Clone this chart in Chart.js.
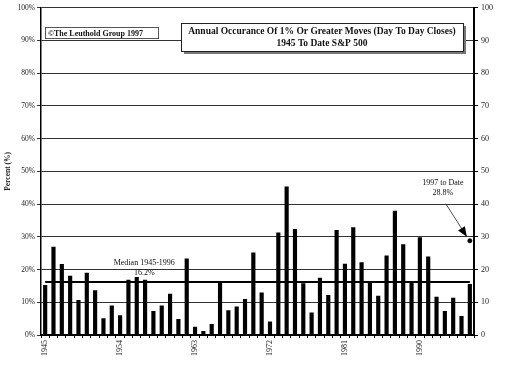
<!DOCTYPE html>
<html>
<head>
<meta charset="utf-8">
<script src="https://cdn.jsdelivr.net/npm/chart.js@4.4.0/dist/chart.umd.min.js"></script>
<style>
  html, body { margin: 0; padding: 0; background: #fff; }
  #wrap { width: 505px; height: 365px; }
</style>
</head>
<body>
<div id="wrap"><canvas id="chart" width="505" height="365"></canvas></div>
<script>
// Years 1945 - 1996
const years = ['1945','1946','1947','1948','1949','1950','1951','1952','1953','1954',
    '1955','1956','1957','1958','1959','1960','1961','1962','1963','1964',
    '1965','1966','1967','1968','1969','1970','1971','1972','1973','1974',
    '1975','1976','1977','1978','1979','1980','1981','1982','1983','1984',
    '1985','1986','1987','1988','1989','1990','1991','1992','1993','1994',
    '1995','1996'];

// % of trading days with a 1% or greater move
const pctMoves = [15.3, 27.0, 21.7, 18.1, 10.7, 19.0, 13.7, 5.1, 9.0, 6.0,
    16.9, 17.7, 16.9, 7.3, 9.0, 12.6, 4.9, 23.4, 2.5, 1.2,
    3.4, 16.1, 7.6, 8.7, 11.0, 25.2, 13.0, 4.1, 31.3, 45.4,
    32.4, 15.8, 6.9, 17.5, 12.2, 32.1, 21.8, 32.9, 22.2, 16.5,
    12.0, 24.3, 38.0, 27.7, 16.5, 29.9, 24.0, 11.7, 7.3, 11.4,
    5.8, 15.6];

const median = 16.2;
const toDate1997 = 28.8;
const yTicks = [0, 10, 20, 30, 40, 50, 60, 70, 80, 90, 100];
const labelEvery = 9; // 1945, 1954, 1963 ...

const medianLine = years.map(() => median);
const toDatePoint = years.map((y, i) => i === years.length - 1 ? toDate1997 : null);

const SERIF = '"Liberation Serif", "DejaVu Serif", serif';

// Text boxes, median label and the 1997 arrow
const notes = {
    id: 'notes',
    afterDatasetsDraw(chart) {
        const ctx = chart.ctx;
        const x = chart.scales.x, y = chart.scales.y;
        ctx.save();

        // copyright box
        ctx.fillStyle = '#fff';
        ctx.fillRect(45, 27, 113, 11);
        ctx.strokeStyle = '#555';
        ctx.lineWidth = 1;
        ctx.strokeRect(45.5, 27.5, 113, 11);
        ctx.fillStyle = '#111';
        ctx.font = 'bold 8px ' + SERIF;
        ctx.textBaseline = 'middle';
        ctx.textAlign = 'left';
        ctx.fillText('\u00A9The Leuthold Group 1997', 48, 33.5);

        // title box with shadow
        ctx.fillStyle = '#777';
        ctx.fillRect(184, 26, 282, 28);
        ctx.fillStyle = '#fff';
        ctx.fillRect(181, 23, 282, 28);
        ctx.strokeStyle = '#222';
        ctx.strokeRect(181.5, 23.5, 282, 28);
        ctx.fillStyle = '#111';
        ctx.font = 'bold 9.5px ' + SERIF;
        ctx.textAlign = 'center';
        ctx.fillText('Annual Occurance Of 1% Or Greater Moves (Day To Day Closes)', 322, 31.5);
        ctx.fillText('1945 To Date S&P 500', 322, 43.5);

        // median label
        ctx.font = '8px ' + SERIF;
        const mx = x.getPixelForValue(11.9);
        ctx.fillText('Median 1945-1996', mx, y.getPixelForValue(median) - 19);
        ctx.fillText(median.toFixed(1) + '%', mx, y.getPixelForValue(median) - 9);

        // 1997 to date label + arrow
        const last = years.length - 1;
        const px = x.getPixelForValue(last), py = y.getPixelForValue(toDate1997);
        ctx.fillText('1997 to Date', px - 27, py - 58);
        ctx.fillText(toDate1997.toFixed(1) + '%', px - 27, py - 48);

        const sx = px - 24, sy = py - 37, ex = px - 3, ey = py - 4;
        ctx.strokeStyle = '#222';
        ctx.lineWidth = 0.8;
        ctx.beginPath();
        ctx.moveTo(sx, sy);
        ctx.lineTo(ex, ey);
        ctx.stroke();
        const ang = Math.atan2(ey - sy, ex - sx);
        ctx.fillStyle = '#000';
        ctx.beginPath();
        ctx.moveTo(ex, ey);
        ctx.lineTo(ex - 10 * Math.cos(ang) + 4 * Math.sin(ang), ey - 10 * Math.sin(ang) - 4 * Math.cos(ang));
        ctx.lineTo(ex - 10 * Math.cos(ang) - 4 * Math.sin(ang), ey - 10 * Math.sin(ang) + 4 * Math.cos(ang));
        ctx.closePath();
        ctx.fill();

        ctx.restore();
    }
};

new Chart(document.getElementById('chart'), {
    type: 'bar',
    data: {
        labels: years,
        datasets: [
            {
                type: 'line',
                data: medianLine,
                borderColor: '#000',
                borderWidth: 2,
                pointRadius: 0,
                order: 1
            },
            {
                type: 'line',
                data: toDatePoint,
                showLine: false,
                pointRadius: 2,
                pointBackgroundColor: '#000',
                pointBorderColor: '#000',
                order: 0
            },
            {
                data: pctMoves,
                backgroundColor: '#000',
                barPercentage: 0.5,
                categoryPercentage: 1,
                order: 2
            }
        ]
    },
    options: {
        responsive: false,
        animation: false,
        devicePixelRatio: 1,
        layout: { padding: { top: 6, left: 0, right: 0, bottom: 0 } },
        plugins: {
            legend: { display: false },
            tooltip: { enabled: false }
        },
        scales: {
            x: {
                grid: { drawOnChartArea: false, drawTicks: true, tickLength: 3, color: '#000' },
                border: { display: true, color: '#000', width: 2 },
                ticks: {
                    autoSkip: false,
                    maxRotation: 90,
                    minRotation: 90,
                    padding: 2,
                    color: '#222',
                    font: { family: SERIF, size: 8 },
                    callback: (v, i) => i % labelEvery === 0 ? years[i] : ''
                },
                afterFit: s => { s.height = 30; }
            },
            y: {
                position: 'left',
                min: 0,
                max: 100,
                afterBuildTicks: s => { s.ticks = yTicks.map(v => ({ value: v })); },
                grid: { color: '#333', lineWidth: 1, tickLength: 4 },
                border: { display: true, color: '#000', width: 1.5 },
                ticks: {
                    padding: 2,
                    color: '#222',
                    font: { family: SERIF, size: 7.5 },
                    callback: v => v + '%'
                },
                title: {
                    display: true,
                    text: 'Percent (%)',
                    color: '#222',
                    padding: { top: 4, bottom: 0 },
                    font: { family: SERIF, size: 7.5, weight: 'bold' }
                },
                afterFit: s => { s.width = 41; }
            },
            y2: {
                position: 'right',
                min: 0,
                max: 100,
                afterBuildTicks: s => { s.ticks = yTicks.map(v => ({ value: v })); },
                grid: { drawOnChartArea: false, tickLength: 4, color: '#000' },
                border: { display: true, color: '#000', width: 2 },
                ticks: {
                    padding: 3,
                    color: '#222',
                    font: { family: SERIF, size: 8 }
                },
                afterFit: s => { s.width = 31; }
            }
        }
    },
    plugins: [notes]
});
</script>
</body>
</html>
